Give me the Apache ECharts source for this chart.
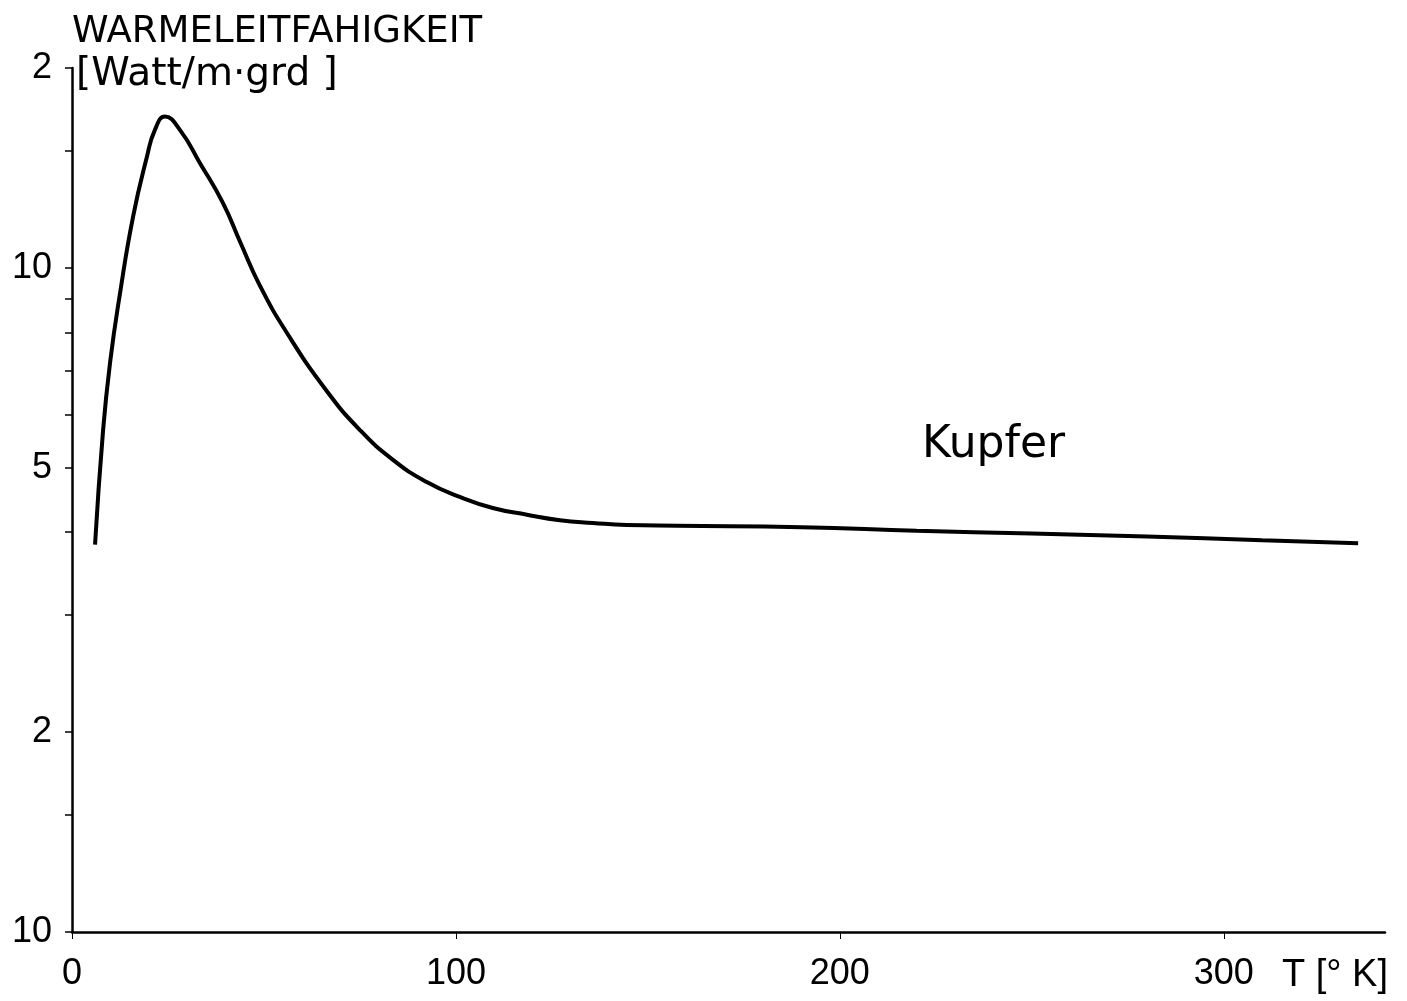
<!DOCTYPE html>
<html>
<head>
<meta charset="utf-8">
<script src="https://cdn.jsdelivr.net/npm/echarts@6/dist/echarts.min.js"></script>
<style>
html,body{margin:0;padding:0;background:#fff;}
#chart{width:1407px;height:1001px;}
</style>
</head>
<body>
<div id="chart"></div>
<script>
// Temperature T [K]
var temperature = [6.0, 8.1, 9.9, 12.5, 15.9, 19.5, 21.6, 24.2, 28.1, 33.3, 39.3, 43.8, 49.0, 56.0, 66.4, 75.0, 83.6, 92.4, 101.0, 109.6, 118.5, 127.1, 135.7, 144.5, 157.6, 190, 220, 250, 280, 310, 335];
// Thermal conductivity of copper [W/m·K]
var conductivity = [383, 570, 719, 915, 1194, 1469, 1614, 1690, 1614, 1439, 1253, 1094, 939, 798, 652, 570, 514, 476, 452, 435, 425, 417, 413, 410, 409, 407, 402, 398, 394, 389, 385];

var xTickValues = [0, 100, 200, 300];
var xTickLabels = ['0', '100', '200', '300'];
var yMinorTickValues = [100, 150, 200, 300, 400, 500, 600, 700, 800, 900, 1000, 1500, 2000];
var yLabelValues = [100, 200, 500, 1000, 2000];
var yTickLabels = ['10', '2', '5', '10', '2'];

var seriesData = temperature.map(function (t, i) { return [t, conductivity[i]]; });

function nearestLabel(vals, labels, v) {
  var best = 0, bd = Infinity;
  for (var i = 0; i < vals.length; i++) {
    var d = Math.abs(Math.log(vals[i]) - Math.log(Math.max(v, 1e-9)));
    if (d < bd) { bd = d; best = i; }
  }
  return labels[best];
}

var numFont = "'Liberation Sans', Arial, sans-serif";

var chart = echarts.init(document.getElementById('chart'));
chart.setOption({
  backgroundColor: '#ffffff',
  animation: false,
  grid: { left: 72, right: 22, top: 68, bottom: 69, containLabel: false },
  xAxis: {
    type: 'value',
    min: 0,
    max: 342,
    splitLine: { show: false },
    axisLine: { show: true, onZero: false, lineStyle: { color: '#000', width: 2.5 } },
    axisTick: { show: true, inside: false, length: 7, customValues: xTickValues, lineStyle: { color: '#000', width: 1 } },
    axisLabel: {
      customValues: xTickValues,
      margin: 24,
      color: '#000',
      fontFamily: numFont,
      fontSize: 36,
      formatter: function (v) { return xTickLabels[xTickValues.indexOf(Math.round(v))]; }
    }
  },
  yAxis: {
    type: 'log',
    logBase: 10,
    min: 100,
    max: 2000,
    splitLine: { show: false },
    axisLine: { show: true, onZero: false, lineStyle: { color: '#000', width: 2.5 } },
    axisTick: { show: true, inside: false, length: 7, customValues: yMinorTickValues, lineStyle: { color: '#000', width: 1.5 } },
    axisLabel: {
      customValues: yLabelValues,
      margin: 20,
      color: '#000',
      fontFamily: numFont,
      fontSize: 36,
      formatter: function (v) { return nearestLabel(yLabelValues, yTickLabels, v); }
    }
  },
  series: [{
    type: 'line',
    data: seriesData,
    smooth: 0.5,
    symbol: 'none',
    lineStyle: { color: '#000', width: 4 },
    clip: false
  }],
  graphic: [
    { type: 'text', left: 72, top: 14, style: { text: 'WARMELEITFAHIGKEIT', fill: '#000', font: "37px 'DejaVu Sans', sans-serif" } },
    { type: 'text', left: 76, top: 55, style: { text: '[Watt/m·grd ]', fill: '#000', font: "39px 'DejaVu Sans', sans-serif" } },
    { type: 'text', left: 922, top: 424, style: { text: 'Kupfer', fill: '#000', font: "44px 'DejaVu Sans', sans-serif" } },
    { type: 'text', left: 1282, top: 957, style: { text: 'T [° K]', fill: '#000', font: "38px " + numFont } }
  ]
});
</script>
</body>
</html>
